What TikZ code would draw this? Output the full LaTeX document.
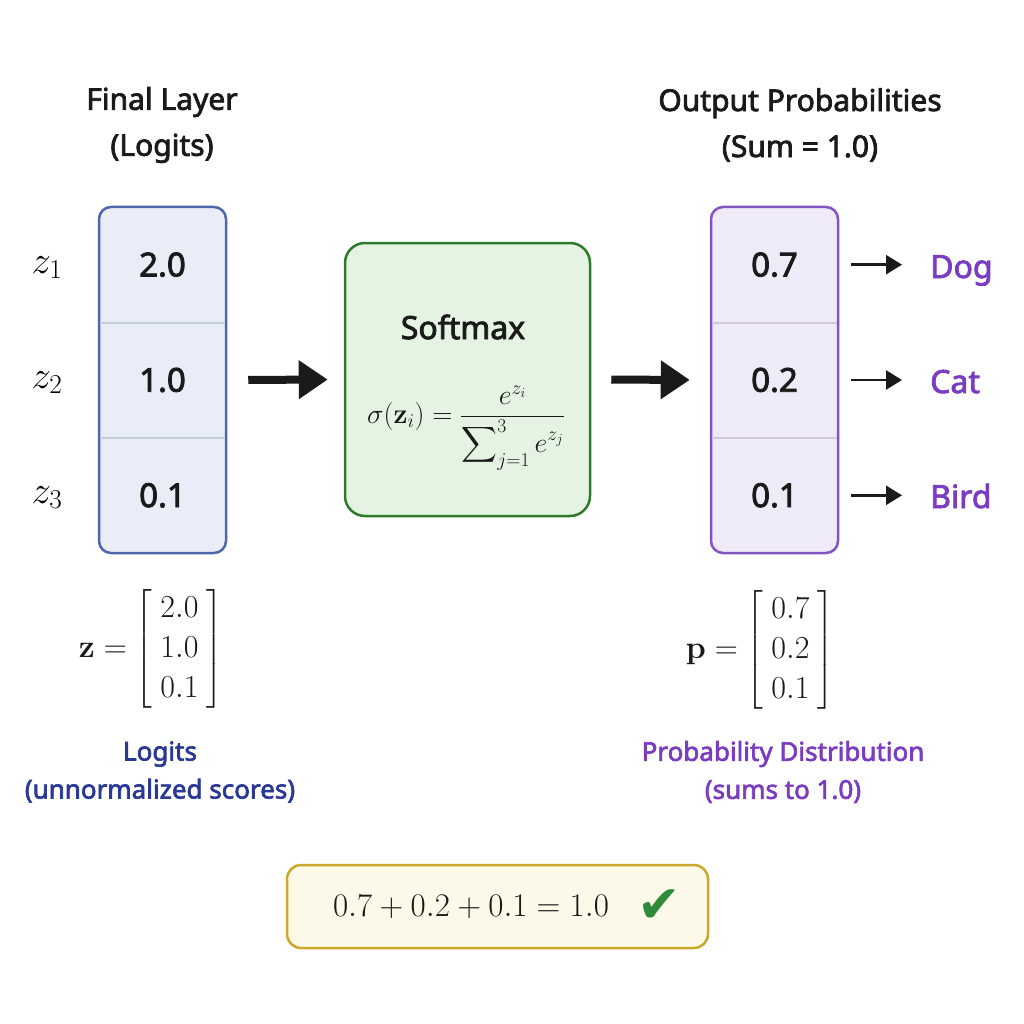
\RequirePackage{fix-cm}
\documentclass[tikz,border=0pt]{standalone}
\usepackage{amsmath}
\usepackage[no-math]{fontspec}
\setmainfont{Noto Sans}
\newfontfamily\semib[FakeBold=2.5]{Noto Sans}
\newfontfamily\dejavu{DejaVu Sans}
\usetikzlibrary{arrows.meta}
\definecolor{zfill}{HTML}{E8EDF8}
\definecolor{zdraw}{HTML}{4F67AA}
\definecolor{zdiv}{HTML}{C5CCDA}
\definecolor{sfill}{HTML}{E4F3E2}
\definecolor{sdraw}{HTML}{2F7A2A}
\definecolor{pfill}{HTML}{EFEAF7}
\definecolor{pdraw}{HTML}{8553C4}
\definecolor{pdiv}{HTML}{D0C8DE}
\definecolor{ptext}{HTML}{7A3CC0}
\definecolor{btext}{HTML}{2A3896}
\definecolor{yfill}{HTML}{FDF9E8}
\definecolor{ydraw}{HTML}{C9A82A}
\definecolor{checkg}{HTML}{2E8B3A}
\definecolor{ink}{HTML}{1A1A1A}
\newcommand{\colvec}[3]{\left[\begin{array}{c}#1\\#2\\#3\end{array}\right]}
\tikzset{
  titletext/.style={font=\semib\fontsize{30}{46}\selectfont, align=center, text=ink},
  colbox/.style={draw, line width=2.5pt, rounded corners=12pt, minimum width=127pt, minimum height=346pt},
  cellnum/.style={minimum width=127pt, minimum height=115.33pt, inner sep=0pt, text=ink, font=\semib\fontsize{33}{40}\selectfont},
  zlabel/.style={anchor=base, font=\fontsize{39}{40}\selectfont},
  bigarrow/.style={line width=8pt, draw=ink, -{Triangle[length=29pt,width=37pt]}},
  smallarrow/.style={line width=2.5pt, draw=ink, -{Triangle[length=16pt,width=19pt]}, shorten <=13pt, shorten >=28pt},
  classlbl/.style={anchor=base west, inner sep=0pt, text=ptext, font=\semib\fontsize{32}{40}\selectfont},
  vectext/.style={font=\fontsize{32}{40}\selectfont, text=ink},
  captext/.style={align=center, font=\semib\fontsize{26}{38}\selectfont},
}
\begin{document}
\begin{tikzpicture}[x=1pt, y=-1pt]
\useasboundingbox[fill=white] (0,0) rectangle (1024,1024);

% titles
\node[titletext] (ltitle) at (162,125) {Final Layer\\(Logits)};
\node[titletext] (rtitle) at (800,125) {Output Probabilities\\(Sum = 1.0)};

% logits column
\node[colbox, fill=zfill, draw=zdraw] (zbox) at (162.5,380) {};
\node[cellnum] (z1) at (162.5,264.67) {2.0};
\node[cellnum] (z2) at (162.5,380) {1.0};
\node[cellnum] (z3) at (162.5,495.33) {0.1};
\draw[zdiv, line width=2pt, shorten <=1.5pt, shorten >=1.5pt] (z1.south west) -- (z1.south east);
\draw[zdiv, line width=2pt, shorten <=1.5pt, shorten >=1.5pt] (z2.south west) -- (z2.south east);
\node[zlabel] (lz1) at (47,273) {$z_1$};
\node[zlabel] (lz2) at (47,388) {$z_2$};
\node[zlabel] (lz3) at (47,503) {$z_3$};

% softmax
\node[draw=sdraw, fill=sfill, line width=2.5pt, rounded corners=20pt, minimum width=245pt, minimum height=273pt] (smax) at (467.5,379.5) {};
\node[font=\semib\fontsize{32}{40}\selectfont, text=ink] (smaxt) at (463,327) {Softmax};
\node[font=\fontsize{28}{32}\selectfont, text=ink] (smaxf) at (466,428) {$\sigma(\mathbf{z}_i) = \dfrac{e^{z_i}}{\displaystyle\sum\nolimits_{j=1}^{3} e^{z_j}}$};

% probabilities column
\node[colbox, fill=pfill, draw=pdraw] (pbox) at (774.5,380) {};
\node[cellnum] (p1) at (774.5,264.67) {0.7};
\node[cellnum] (p2) at (774.5,380) {0.2};
\node[cellnum] (p3) at (774.5,495.33) {0.1};
\draw[pdiv, line width=2pt, shorten <=1.5pt, shorten >=1.5pt] (p1.south west) -- (p1.south east);
\draw[pdiv, line width=2pt, shorten <=1.5pt, shorten >=1.5pt] (p2.south west) -- (p2.south east);

% class labels
\node[classlbl] (dog) at (930,278) {Dog};
\node[classlbl] (cat) at (930,393) {Cat};
\node[classlbl] (bird) at (930,508) {Bird};

% arrows
\draw[bigarrow, shorten <=21pt, shorten >=16pt] (zbox.east) -- (smax.west);
\draw[bigarrow, shorten <=20pt, shorten >=20pt] (smax.east) -- (pbox.west);
\draw[smallarrow] (p1.east) -- (p1.east -| dog.west);
\draw[smallarrow] (p2.east) -- (p2.east -| cat.west);
\draw[smallarrow] (p3.east) -- (p3.east -| bird.west);

% vectors
\node[vectext] (zvec) at (151,649) {$\mathbf{z} = {\arraycolsep=8pt\colvec{2.0}{1.0}{0.1}}$};
\node[vectext] (pvec) at (760,650) {$\mathbf{p} = {\arraycolsep=8pt\colvec{0.7}{0.2}{0.1}}$};

% captions
\node[captext, text=btext] (lcap) at (160,772) {Logits\\(unnormalized scores)};
\node[captext, text=ptext] (pcap) at (783,772) {Probability Distribution\\(sums to 1.0)};

% sum check
\node[draw=ydraw, fill=yfill, line width=2.5pt, rounded corners=14pt, minimum width=421pt, minimum height=83pt] (sbox) at (497.5,906.5) {};
\node[font=\fontsize{33}{36}\selectfont, text=ink] (sumeq) at (471,907) {$0.7 + 0.2 + 0.1 = 1.0$};
\node[font=\dejavu\fontsize{52}{56}\selectfont, text=checkg] (check) at (659,906) {✔};
\end{tikzpicture}
\end{document}
